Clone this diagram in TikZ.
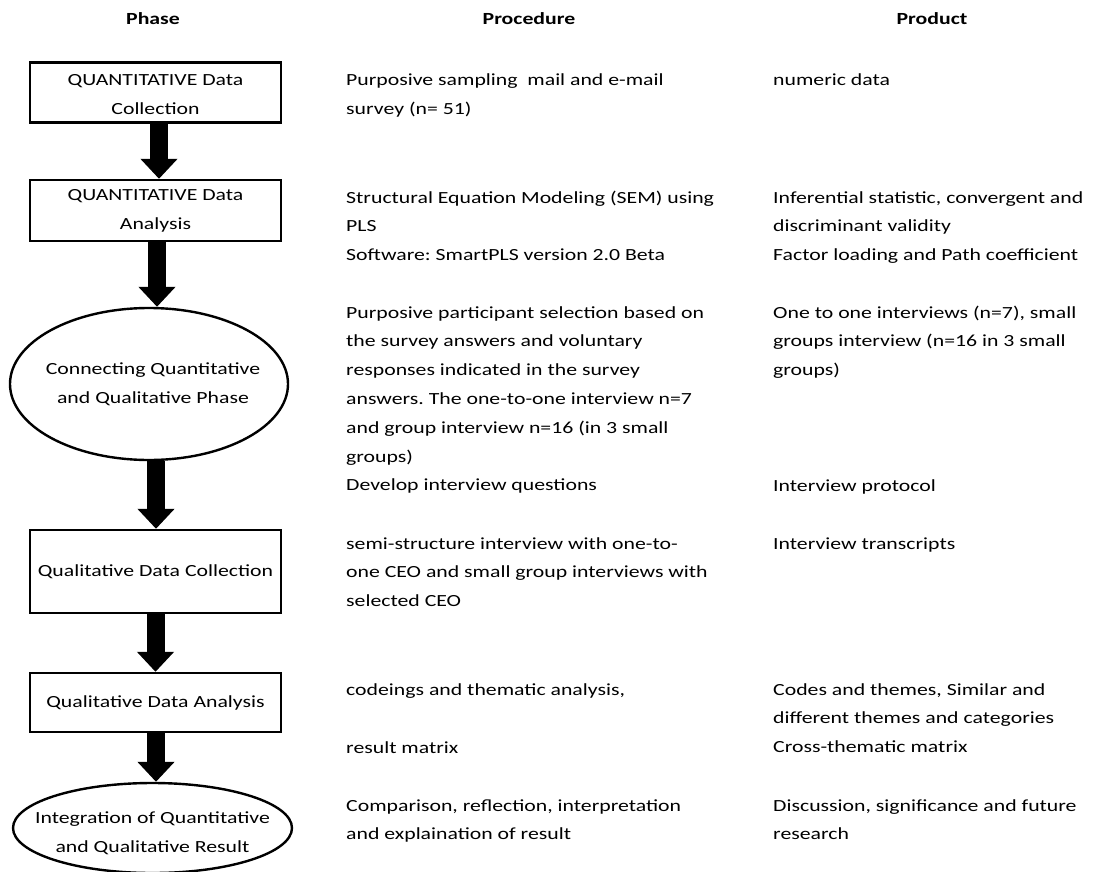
\documentclass[tikz,border=0pt]{standalone}
\usepackage{fontspec}
\setmainfont{Carlito}[FakeStretch=1.28]
\usetikzlibrary{shapes.geometric,arrows.meta}
\frenchspacing
\newcommand{\txtlines}[1]{\begin{tabular}[t]{@{}l@{}}#1\end{tabular}}
\begin{document}
\begin{tikzpicture}[x=1pt,y=-1pt,
  font=\fontsize{17}{28.8}\selectfont,
  phasebox/.style={draw,line width=2.4pt,rectangle,minimum width=251pt,inner sep=0pt,align=center},
  phaseoval/.style={draw,line width=2.4pt,ellipse,inner sep=0pt},
  ovaltext/.style={inner sep=0pt,align=center},
  heading/.style={font=\fontsize{17}{28.8}\selectfont\bfseries,anchor=base,inner sep=0pt},
  col/.style={anchor=base west,inner sep=0pt},
  flow/.style={line width=18pt,-{Triangle[length=20pt,width=36pt]}}]
\useasboundingbox (0,0) rectangle (1097,872);

% column headings
\node[heading] (hphase) at (153,25) {Phase};
\node[heading] (hproc) at (529,25) {Procedure};
\node[heading] (hprod) at (932,25) {Product};

% phases
\node[phasebox,minimum height=60pt] (qcoll) at (155.5,92.5) {};
\node[ovaltext] (qcollt) at ([yshift=-2pt]qcoll.center) {QUANTITATIVE Data\\Collection};
\node[phasebox,minimum height=61pt] (qanal) at (155.5,210.5) {QUANTITATIVE Data\\Analysis};
\node[phaseoval,minimum width=278pt,minimum height=152pt] (conn) at (149,384) {};
\node[ovaltext] (connt) at ([xshift=4pt]conn.center) {Connecting Quantitative\\and Qualitative Phase};
\node[phasebox,minimum height=83pt] (lcoll) at (155.5,571.5) {Qualitative Data Collection};
\node[phasebox,minimum height=59pt] (lanal) at (155.5,702.5) {Qualitative Data Analysis};
\node[phaseoval,minimum width=279pt,minimum height=90pt] (integ) at (152.5,828) {};
\node[ovaltext] (integt) at ([yshift=-5pt]integ.center) {Integration of Quantitative\\and Qualitative Result};

% block arrows between phases
\draw[flow] (qcoll.south -| 159,0) -- (qanal.north -| 159,0);
\draw[flow] (qanal.south -| 157,0) -- (conn.north -| 157,0);
\draw[flow] (conn.south -| 156,0) -- (lcoll.north -| 156,0);
\draw[flow] (lcoll.south -| 155.5,0) -- (lanal.north -| 155.5,0);
\draw[flow] (lanal.south -| 156,0) -- (integ.north -| 156,0);

% procedures
\node[col] (p1) at (346,86) {\txtlines{Purposive sampling\ \ mail and e-mail\\survey (n= 51)}};
\node[col] (p2) at (346,203) {\txtlines{Structural Equation Modeling (SEM) using\\PLS\\Software: SmartPLS version 2.0 Beta}};
\node[col] (p3) at (346,318) {\txtlines{Purposive participant selection based on\\the survey answers and voluntary\\responses indicated in the survey\\answers. The one-to-one interview n=7\\and group interview n=16 (in 3 small\\groups)\\Develop interview questions}};
\node[col] (p4) at (346,549) {\txtlines{semi-structure interview with one-to-\\one CEO and small group interviews with\\selected CEO}};
\node[col] (p5) at (346,695) {codeings and thematic analysis,};
\node[col] (p5b) at (346,753) {result matrix};
\node[col] (p6) at (346,811) {\txtlines{Comparison, reflection, interpretation\\and explaination of result}};

% products
\node[col] (r1) at (773,86) {numeric data};
\node[col] (r2) at (773,203) {\txtlines{Inferential statistic, convergent and\\discriminant validity\\Factor loading and Path coefficient}};
\node[col] (r3) at (773,318) {\txtlines{One to one interviews (n=7), small\\groups interview (n=16 in 3 small\\groups)}};
\node[col] (r3b) at (773,491) {Interview protocol};
\node[col] (r4) at (773,549) {Interview transcripts};
\node[col] (r5) at (773,695) {\txtlines{Codes and themes, Similar and\\different themes and categories\\Cross-thematic matrix}};
\node[col] (r6) at (773,811) {\txtlines{Discussion, significance and future\\research}};
\end{tikzpicture}
\end{document}
